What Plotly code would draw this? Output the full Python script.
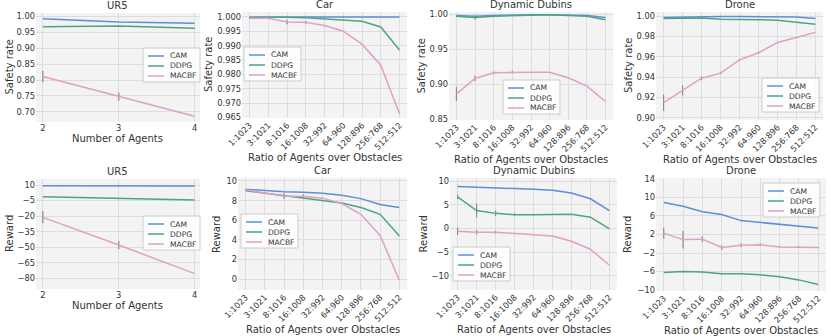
import plotly.graph_objects as go
from plotly.subplots import make_subplots

# ---- data ----
ratios = ["1:1023", "3:1021", "8:1016", "16:1008", "32:992",
          "64:960", "128:896", "256:768", "512:512"]
ur5_agents = [2, 3, 4]
methods = ["CAM", "DDPG", "MACBF"]

# safety rate
ur5_safety_cam = [0.993, 0.983, 0.979]
ur5_safety_ddpg = [0.968, 0.970, 0.963]
ur5_safety_macbf = [0.811, 0.748, 0.686]
ur5_safety_macbf_err = [0.018, 0.013, 0.0]

car_safety_cam = [0.99985, 0.99995, 0.99995, 0.99995, 0.99995, 1.0, 1.0, 1.0, 1.0]
car_safety_ddpg = [0.99985, 0.99995, 0.9999, 0.9997, 0.9993, 0.9990, 0.9985, 0.9965, 0.9885]
car_safety_macbf = [0.9995, 0.9995, 0.9982, 0.9981, 0.9970, 0.9950, 0.9905, 0.9832, 0.9663]
car_safety_macbf_err = [0.0002, 0.0001, 0.0008, 0.0005, 0.0002, 0.0001, 0.0001, 0.0001, 0.0]

dub_safety_cam = [0.998, 0.997, 0.998, 0.999, 0.999, 0.999, 0.999, 0.998, 0.995]
dub_safety_ddpg = [0.997, 0.995, 0.997, 0.998, 0.999, 0.999, 0.998, 0.997, 0.992]
dub_safety_ddpg_err = [0.001, 0.003, 0.001, 0.0, 0.0, 0.0, 0.0, 0.0, 0.0]
dub_safety_macbf = [0.886, 0.908, 0.916, 0.917, 0.917, 0.917, 0.909, 0.897, 0.875]
dub_safety_macbf_err = [0.010, 0.004, 0.002, 0.002, 0.0, 0.0, 0.0, 0.0, 0.0]

drone_safety_cam = [0.9985, 0.999, 0.9993, 0.9995, 0.9995, 0.9995, 0.9993, 0.999, 0.9975]
drone_safety_ddpg = [0.9975, 0.998, 0.998, 0.997, 0.997, 0.9965, 0.996, 0.994, 0.992]
drone_safety_macbf = [0.915, 0.927, 0.939, 0.944, 0.957, 0.964, 0.974, 0.979, 0.984]
drone_safety_macbf_err = [0.008, 0.005, 0.002, 0.001, 0.001, 0.001, 0.0, 0.0, 0.0]

# reward
ur5_reward_cam = [9.4, 9.2, 9.0]
ur5_reward_ddpg = [-1.3, -2.9, -4.5]
ur5_reward_macbf = [-21.2, -47.9, -75.5]
ur5_reward_macbf_err = [5.8, 4.0, 0.0]

car_reward_cam = [9.15, 9.0, 8.9, 8.85, 8.75, 8.55, 8.2, 7.6, 7.3]
car_reward_ddpg = [9.0, 8.75, 8.45, 8.2, 8.0, 7.75, 7.3, 6.6, 4.4]
car_reward_macbf = [9.1, 8.8, 8.45, 8.45, 8.25, 7.7, 6.6, 4.45, -0.1]
car_reward_macbf_err = [0.05, 0.05, 0.3, 0.2, 0.05, 0.05, 0.0, 0.0, 0.0]

dub_reward_cam = [8.9, 8.7, 8.5, 8.45, 8.3, 8.1, 7.5, 6.3, 3.8]
dub_reward_ddpg = [6.7, 3.8, 3.2, 2.9, 2.9, 3.0, 3.0, 2.4, -0.1]
dub_reward_ddpg_err = [0.5, 1.5, 0.6, 0.3, 0.1, 0.1, 0.1, 0.1, 0.0]
dub_reward_macbf = [-0.6, -0.8, -0.8, -1.1, -1.4, -1.6, -2.7, -4.4, -7.8]
dub_reward_macbf_err = [0.8, 0.5, 0.3, 0.1, 0.0, 0.0, 0.0, 0.0, 0.0]

drone_reward_cam = [8.9, 8.1, 6.9, 6.3, 5.0, 4.6, 4.2, 3.9, 3.4]
drone_reward_ddpg = [-6.2, -6.0, -6.1, -6.5, -6.5, -6.7, -7.1, -7.8, -8.8]
drone_reward_macbf = [2.3, 0.9, 1.0, -0.8, -0.3, -0.2, -0.7, -0.7, -0.8]
drone_reward_macbf_err = [1.2, 1.9, 0.6, 0.5, 0.4, 0.3, 0.2, 0.2, 0.1]

COLORS = {"CAM": "#5b8fd8", "DDPG": "#4fa383", "MACBF": "#e09fca"}
FONT = "DejaVu Sans"
TXT = "#333333"
W, H = 831, 336

# box = plot area in pixels (x0, x1, top, bottom) measured on the reference;
# each panel was laid out on its own there, so they differ slightly
panels = [
    dict(box=(36, 200, 13, 122), title="UR5", x=ur5_agents,
         cam=ur5_safety_cam, ddpg=ur5_safety_ddpg, macbf=ur5_safety_macbf,
         ddpg_err=None, macbf_err=ur5_safety_macbf_err,
         yrange=[0.668, 1.011], tick0=0.70, dtick=0.05, fmt=".2f",
         ytitle="Safety rate", ytshift=-27, legend_px=(143, 48)),
    dict(box=(242, 407, 12, 118), title="Car", x=ratios,
         cam=car_safety_cam, ddpg=car_safety_ddpg, macbf=car_safety_macbf,
         ddpg_err=None, macbf_err=car_safety_macbf_err,
         yrange=[0.9648, 1.0017], tick0=0.965, dtick=0.005, fmt=".3f",
         ytitle="Safety rate", ytshift=-34, legend_px=(244, 47)),
    dict(box=(449, 613, 12, 120), title="Dynamic Dubins", x=ratios,
         cam=dub_safety_cam, ddpg=dub_safety_ddpg, macbf=dub_safety_macbf,
         ddpg_err=dub_safety_ddpg_err, macbf_err=dub_safety_macbf_err,
         yrange=[0.8486, 1.003], tick0=0.85, dtick=0.05, fmt=".2f",
         ytitle="Safety rate", ytshift=-28.5, legend_px=(503, 80)),
    dict(box=(656, 823, 12, 120), title="Drone", x=ratios,
         cam=drone_safety_cam, ddpg=drone_safety_ddpg, macbf=drone_safety_macbf,
         ddpg_err=None, macbf_err=drone_safety_macbf_err,
         yrange=[0.898, 1.004], tick0=0.90, dtick=0.02, fmt=".2f",
         ytitle="Safety rate", ytshift=-28, legend_px=(762, 78)),
    dict(box=(36, 200, 179, 289), title="UR5", x=ur5_agents,
         cam=ur5_reward_cam, ddpg=ur5_reward_ddpg, macbf=ur5_reward_macbf,
         ddpg_err=None, macbf_err=ur5_reward_macbf_err,
         yrange=[-90.3, 15.8], tick0=10, dtick=15, fmt="d",
         ytitle="Reward", ytshift=-27, legend_px=(143, 216)),
    dict(box=(238, 407, 178, 290), title="Car", x=ratios,
         cam=car_reward_cam, ddpg=car_reward_ddpg, macbf=car_reward_macbf,
         ddpg_err=None, macbf_err=car_reward_macbf_err,
         yrange=[-1.1, 10.3], tick0=0, dtick=2, fmt="d",
         ytitle="Reward", ytshift=-22, legend_px=(241, 214)),
    dict(box=(450, 617, 178, 290), title="Dynamic Dubins", x=ratios,
         cam=dub_reward_cam, ddpg=dub_reward_ddpg, macbf=dub_reward_macbf,
         ddpg_err=dub_reward_ddpg_err, macbf_err=dub_reward_macbf_err,
         yrange=[-13.05, 10.7], tick0=0, dtick=5, fmt="d",
         ytitle="Reward", ytshift=-27.5, legend_px=(453, 247)),
    dict(box=(656, 826, 178, 291), title="Drone", x=ratios,
         cam=drone_reward_cam, ddpg=drone_reward_ddpg, macbf=drone_reward_macbf,
         ddpg_err=None, macbf_err=drone_reward_macbf_err,
         yrange=[-10.2, 14.2], tick0=2, dtick=4, fmt="d",
         ytitle="Reward", ytshift=-28.5, legend_px=(763, 183)),
]

fig = make_subplots(rows=2, cols=4)
layout_extra = {}

for i, p in enumerate(panels):
    n = i + 1
    sfx = "" if n == 1 else str(n)
    row, col = i // 4 + 1, i % 4 + 1
    for name in methods:
        key = name.lower()
        err = p.get(key + "_err")
        trace = go.Scatter(
            x=p["x"], y=p[key], name=name, mode="lines",
            line=dict(color=COLORS[name], width=1.5),
            showlegend=False,
        )
        if err is not None:
            trace.error_y = dict(type="data", array=err, visible=True,
                                 color="#8a8a8a", thickness=1.2, width=0)
        fig.add_trace(trace, row=row, col=col)

    bx0, bx1, btop, bbot = p["box"]
    categorical = isinstance(p["x"][0], str)
    xaxis_cfg = dict(
        domain=[bx0 / W, bx1 / W], automargin=False,
        showgrid=True, gridcolor="#dddddd", gridwidth=1,
        zeroline=False, showline=False, ticks="",
        tickfont=dict(size=8.3, color=TXT, family=FONT),
    )
    if categorical:
        xaxis_cfg.update(type="category", range=[-0.4, 8.4], tickangle=-45)
    else:
        xaxis_cfg.update(range=[1.91, 4.07], tickvals=ur5_agents, tickangle=0)
    layout_extra["xaxis" + sfx] = xaxis_cfg

    layout_extra["yaxis" + sfx] = dict(
        domain=[1 - bbot / H, 1 - btop / H], automargin=False,
        range=p["yrange"], tick0=p["tick0"], dtick=p["dtick"], tickformat=p["fmt"],
        showgrid=True, gridcolor="#dddddd", gridwidth=1,
        zeroline=False, showline=False, ticks="",
        tickfont=dict(size=8.3, color=TXT, family=FONT),
    )

    xd, yd = f"x{sfx} domain", f"y{sfx} domain"
    # panel title
    fig.add_annotation(
        text=p["title"], x=0.5, y=1.0, xref=xd, yref=yd,
        xanchor="center", yanchor="bottom", showarrow=False, yshift=0,
        font=dict(size=10, color=TXT, family=FONT),
    )
    # x axis title
    fig.add_annotation(
        text="Ratio of Agents over Obstacles" if categorical else "Number of Agents",
        x=0.5, y=0.0, xref=xd, yref=yd, xanchor="center", yanchor="middle",
        showarrow=False, yshift=-39 if categorical else -16,
        font=dict(size=10, color=TXT, family=FONT),
    )
    # y axis title
    fig.add_annotation(
        text=p["ytitle"], x=0.0, y=0.5, xref=xd, yref=yd, textangle=-90,
        xanchor="center", yanchor="middle", showarrow=False, xshift=p["ytshift"],
        font=dict(size=10, color=TXT, family=FONT),
    )

    # compact matplotlib-style legend box
    lx, ly = p["legend_px"]
    fig.add_shape(type="rect", xref="paper", yref="paper",
                  x0=lx / W, x1=(lx + 57) / W, y0=1 - ly / H, y1=1 - (ly + 34) / H,
                  fillcolor="rgba(255,255,255,0.8)", line=dict(color="#cccccc", width=1))
    for k, name in enumerate(methods):
        ry = 1 - (ly + 8 + 10 * k) / H
        fig.add_shape(type="line", xref="paper", yref="paper",
                      x0=(lx + 5) / W, x1=(lx + 21) / W, y0=ry, y1=ry,
                      line=dict(color=COLORS[name], width=1.5))
        fig.add_annotation(text=name, xref="paper", yref="paper",
                           x=(lx + 25) / W, y=ry, xanchor="left", yanchor="middle",
                           showarrow=False, font=dict(size=7.6, color=TXT, family=FONT))

fig.update_layout(**layout_extra)
fig.update_layout(
    width=W, height=H,
    margin=dict(l=0, r=0, t=0, b=0),
    plot_bgcolor="#f3f3f3", paper_bgcolor="white",
    font=dict(family=FONT, color=TXT),
)

# the page body has a default 8px margin; drop it so the figure sits at (0, 0)
fig.write_html("out.html", config={"displayModeBar": False},
               post_script="document.body.style.margin = '0px';")
